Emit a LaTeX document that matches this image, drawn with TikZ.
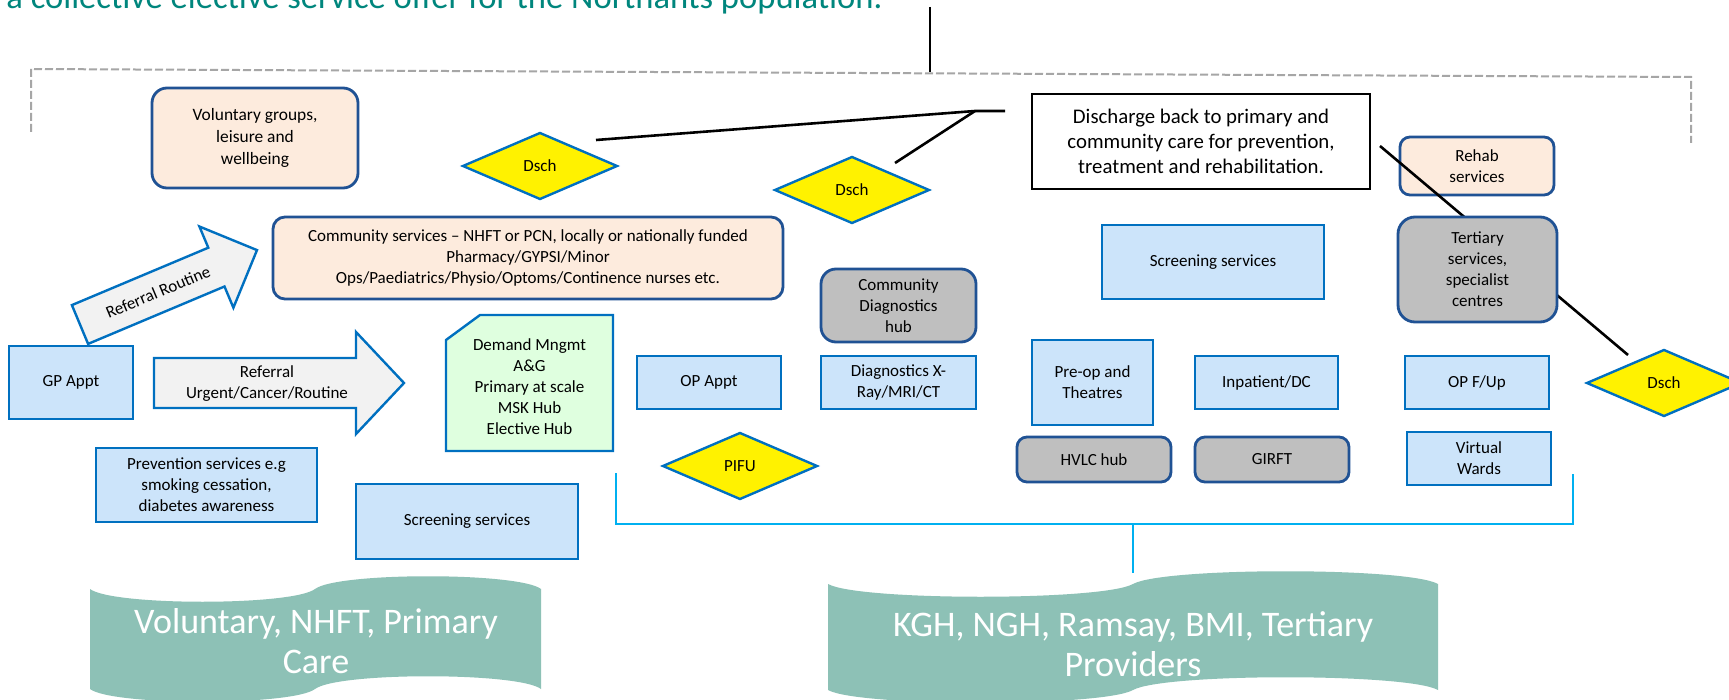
\documentclass[tikz,border=0pt]{standalone}
\usepackage{fontspec}
\setmainfont{Carlito}
\usetikzlibrary{shapes.geometric}
\definecolor{bbord}{RGB}{0,112,192}
\definecolor{rbord}{RGB}{32,82,148}
\definecolor{lblue}{RGB}{204,228,250}
\definecolor{peach}{RGB}{253,235,221}
\definecolor{gfill}{RGB}{191,191,191}
\definecolor{greenf}{RGB}{223,255,223}
\definecolor{arrowf}{RGB}{242,242,242}
\definecolor{cyanl}{RGB}{0,176,240}
\definecolor{dgray}{RGB}{166,166,166}
\definecolor{bannerf}{RGB}{141,193,182}
\definecolor{titleteal}{RGB}{0,134,125}
\begin{document}
\begin{tikzpicture}[x=0.5pt,y=-0.5pt,
  every node/.style={inner sep=0pt, align=center, font=\fontsize{8.5}{10.5}\selectfont},
  bluebox/.style={rectangle, draw=bbord, fill=lblue, line width=1.2pt},
  roundbox/.style={rectangle, draw=rbord, line width=1.4pt, rounded corners=#1},
  roundbox/.default=7pt,
  peachbox/.style={roundbox, fill=peach},
  graybox/.style={roundbox, fill=gfill},
  dsch/.style={diamond, draw=bbord, fill=yellow, line width=1.2pt, minimum width=77.5pt, minimum height=33.5pt},
  blockarrow/.style={draw=bbord, fill=arrowf, line width=1.2pt, line join=miter},
  blackline/.style={draw=black, line width=1.3pt},
  cyanline/.style={draw=cyanl, line width=1.3pt},
  dashline/.style={draw=dgray, line width=1pt, dash pattern=on 4pt off 1.5pt},
  bannershape/.style={fill=bannerf},
  bannertext/.style={text=white, font=\fontsize{18}{20}\selectfont}
]
\useasboundingbox (0,0) rectangle (1729,700);
\clip (0,0) rectangle (1729,700);
\fill[white] (0,0) rectangle (1729,700);

% title (cut off at top, as in the reference)
\node[anchor=base west, font=\fontsize{17.3}{20}\selectfont, text=titleteal] (title) at (6,9) {a collective elective service offer for the Northants population.};

% connector coordinates
\coordinate (vtop) at (930,7);
\coordinate (vbot) at (930,72);
\coordinate (dl1) at (31,132);
\coordinate (dl2) at (31,69);
\coordinate (dl3) at (1691,77);
\coordinate (dl4) at (1691,143);

\draw[blackline] (vtop) -- (vbot);
\draw[dashline] (dl1) -- (dl2) -- (dl3) -- (dl4);

% left boxes
\node[peachbox, roundbox=7.5pt, minimum width=103pt, minimum height=50pt, font=\fontsize{8.7}{11}\selectfont] (vol) at (255,138) {Voluntary groups,\\ leisure and\\ wellbeing};
\node[peachbox, roundbox=6pt, minimum width=255pt, minimum height=41pt] (comm) at (528,258) {Community services -- NHFT or PCN, locally or nationally funded\\ Pharmacy/GYPSI/Minor\\ Ops/Paediatrics/Physio/Optoms/Continence nurses etc.};
\node[bluebox, minimum width=62pt, minimum height=36.5pt] (gp) at (71,382.5) {GP Appt};
\node[bluebox, minimum width=110.5pt, minimum height=37pt] (prev) at (206.5,485) {Prevention services e.g\\ smoking cessation,\\ diabetes awareness};
\node[bluebox, minimum width=111pt, minimum height=37.5pt] (scr1) at (467,521.5) {Screening services};

% block arrows
\draw[blockarrow] (71.9,305.1) -- (208.3,247.7) -- (199.4,226.5) -- (257.0,250.1) -- (233.4,307.7) -- (224.5,286.5) -- (88.1,343.9) -- cycle;
\node[rotate=22.8] (refrout) at (158,292) {Referral Routine};
\draw[blockarrow] (154,358) -- (356,358) -- (356,332) -- (404,383) -- (356,434) -- (356,408) -- (154,408) -- cycle;
\node (refurg) at (267,383.5) {Referral\\ Urgent/Cancer/Routine};

% demand management (snipped corner)
\draw[draw=bbord, fill=greenf, line width=1.2pt] (446,340) -- (480,315) -- (613,315) -- (613,451) -- (446,451) -- cycle;
\node (demand) at (529.5,386.5) {Demand Mngmt\\ A\&G\\ Primary at scale\\ MSK Hub\\ Elective Hub};

% middle
\node[bluebox, minimum width=72pt, minimum height=26.5pt] (opappt) at (709,382.5) {OP Appt};
\node[graybox, roundbox=7.5pt, minimum width=77.5pt, minimum height=36.5pt] (cdh) at (898.5,305.5) {Community\\ Diagnostics\\ hub};
\node[bluebox, minimum width=77.5pt, minimum height=26.5pt] (diag) at (898.5,382.5) {Diagnostics X-\\ Ray/MRI/CT};

% right side
\node[bluebox, minimum width=111pt, minimum height=37pt] (scr2) at (1213,262) {Screening services};
\node[bluebox, minimum width=60.5pt, minimum height=42.5pt] (preop) at (1092.5,382.5) {Pre-op and\\ Theatres};
\node[bluebox, minimum width=71.5pt, minimum height=26.5pt] (inp) at (1266.5,382.5) {Inpatient/DC};
\node[graybox, roundbox=5pt, minimum width=77pt, minimum height=22.5pt] (hvlc) at (1094,459.5) {HVLC hub};
\node[graybox, roundbox=5pt, minimum width=77pt, minimum height=22.5pt] (girft) at (1272,459.5) {GIRFT};
\node[peachbox, roundbox=5pt, minimum width=77pt, minimum height=29pt] (rehab) at (1477,166) {Rehab\\ services};

\coordinate (l3s) at (1380,146);
\coordinate (l3e) at (1628,355);
\draw[blackline] (l3s) -- (l3e);

\node[graybox, roundbox=8.5pt, minimum width=79.5pt, minimum height=52.5pt] (tert) at (1477.5,269.5) {Tertiary\\ services,\\ specialist\\ centres};
\node[bluebox, minimum width=72pt, minimum height=26.5pt] (opfu) at (1477,382.5) {OP F/Up};
\node[bluebox, minimum width=72pt, minimum height=26.5pt] (vw) at (1479,458.5) {Virtual\\ Wards};

\node[rectangle, draw=black, fill=white, line width=1.4pt, minimum width=169pt, minimum height=47.5pt, font=\fontsize{10.4}{12.5}\selectfont] (disc) at (1201,141.5) {Discharge back to primary and\\ community care for prevention,\\ treatment and rehabilitation.};

% diamonds
\node[dsch] (d1) at (540,166) {Dsch};
\node[dsch] (d2) at (852,190) {Dsch};
\node[dsch] (d3) at (1664,383) {Dsch};
\node[dsch] (pifu) at (740,466) {PIFU};

% discharge connectors
\coordinate (j1) at (975,111);
\coordinate (l1s) at (596,140);
\coordinate (l1e) at (1005,111);
\coordinate (l2e) at (895,163);
\draw[blackline] (l1s) -- (j1) -- (l1e);
\draw[blackline] (j1) -- (l2e);

% provider bracket
\coordinate (b1) at (616,473);
\coordinate (b2) at (616,524);
\coordinate (b3) at (1573,524);
\coordinate (b4) at (1573,474);
\coordinate (bs) at (1133,524);
\coordinate (be) at (1133,573);
\draw[cyanline] (b1) -- (b2) -- (b3) -- (b4);
\draw[cyanline] (bs) -- (be);

% banners
\fill[bannershape] (90,589) .. controls (112.5,606) and (292.5,606) .. (315,589)
  .. controls (337.5,572) and (518.5,572) .. (541,589) -- (541,689)
  .. controls (518.5,672) and (337.5,672) .. (315,689)
  .. controls (292.5,706) and (112.5,706) .. (90,689) -- cycle;
\node[bannertext] (ban1) at (316,641) {Voluntary, NHFT, Primary\\ Care};

\fill[bannershape] (828,584) .. controls (858.5,601) and (1102.5,601) .. (1133,584)
  .. controls (1163.5,567) and (1407.5,567) .. (1438,584) -- (1438,690)
  .. controls (1407.5,673) and (1163.5,673) .. (1133,690)
  .. controls (1102.5,707) and (858.5,707) .. (828,690) -- cycle;
\node[bannertext] (ban2) at (1133,644) {KGH, NGH, Ramsay, BMI, Tertiary\\ Providers};
\end{tikzpicture}
\end{document}
